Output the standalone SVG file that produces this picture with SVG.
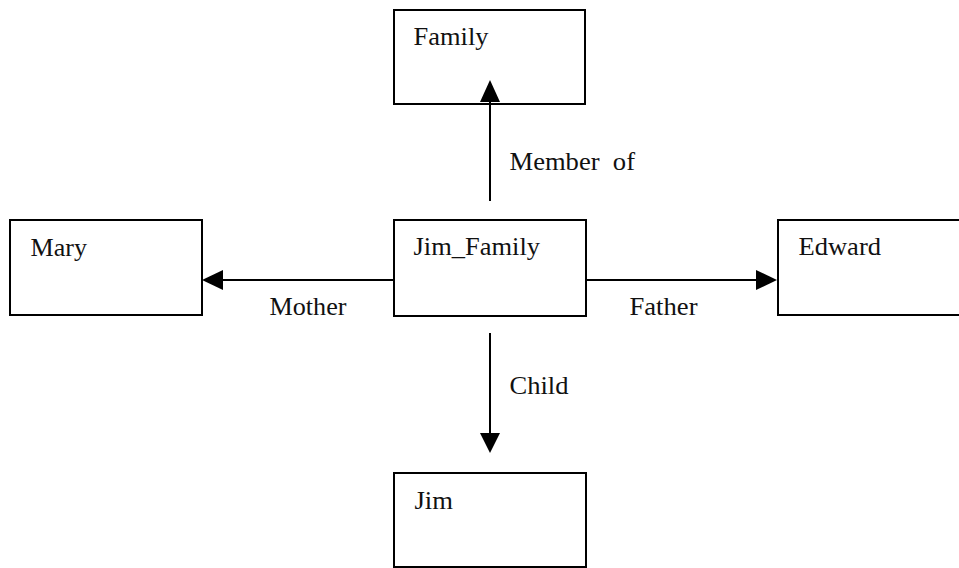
<svg xmlns="http://www.w3.org/2000/svg" width="959" height="568" viewBox="0 0 959 568" font-family="'Liberation Serif', 'Times New Roman', 'DejaVu Serif', serif">
  <style>
    .box { fill: #ffffff; stroke: #000000; stroke-width: 2; }
    text { font-family: 'Liberation Serif', 'Times New Roman', 'DejaVu Serif', serif; }
    .lbl { font-size: 24.5px; fill: #111111; }
    .edge { stroke: #000000; stroke-width: 2; fill: none; }
    .head { fill: #000000; stroke: none; }
  </style>
  <rect width="959" height="568" fill="#ffffff"/>

  <g id="node-family">
    <rect class="box" x="394" y="10" width="191" height="94"/>
    <text class="lbl" x="413.5" y="45" textLength="75" lengthAdjust="spacingAndGlyphs">Family</text>
  </g>

  <g id="node-jim-family">
    <rect class="box" x="394" y="220" width="192" height="96"/>
    <text class="lbl" x="413.5" y="255" textLength="126.5" lengthAdjust="spacingAndGlyphs">Jim_Family</text>
  </g>

  <g id="node-mary">
    <rect class="box" x="10" y="220" width="192" height="95"/>
    <text class="lbl" x="30.5" y="255.5" textLength="56.5" lengthAdjust="spacingAndGlyphs">Mary</text>
  </g>

  <g id="node-edward">
    <rect class="box" x="778" y="220" width="200" height="95"/>
    <text class="lbl" x="798.5" y="255" textLength="82.5" lengthAdjust="spacingAndGlyphs">Edward</text>
  </g>

  <g id="node-jim">
    <rect class="box" x="394" y="473" width="192" height="94"/>
    <text class="lbl" x="414.5" y="508.5" textLength="38.5" lengthAdjust="spacingAndGlyphs">Jim</text>
  </g>

  <!-- connectors sit on top so the heads show inside the boxes -->
  <g id="connectors">
    <!-- Member of: Jim_Family -> Family -->
    <line class="edge" x1="490" y1="201" x2="490" y2="100"/>
    <polygon class="head" points="490,80 500,102 480,102"/>
    <text class="lbl" x="509.5" y="169.5" textLength="125.5" lengthAdjust="spacingAndGlyphs" xml:space="preserve">Member  of</text>
    <!-- Mother: Jim_Family -> Mary -->
    <line class="edge" x1="393" y1="280" x2="220" y2="280"/>
    <polygon class="head" points="202,280 223,270 223,290"/>
    <text class="lbl" x="269.5" y="314.5" textLength="77" lengthAdjust="spacingAndGlyphs">Mother</text>
    <!-- Father: Jim_Family -> Edward -->
    <line class="edge" x1="586" y1="280" x2="759" y2="280"/>
    <polygon class="head" points="777,280 756,270 756,290"/>
    <text class="lbl" x="629.5" y="314.5" textLength="68" lengthAdjust="spacingAndGlyphs">Father</text>
    <!-- Child: Jim_Family -> Jim -->
    <line class="edge" x1="490" y1="333" x2="490" y2="436"/>
    <polygon class="head" points="490,453 480,433 500,433"/>
    <text class="lbl" x="509.5" y="394" textLength="59" lengthAdjust="spacingAndGlyphs">Child</text>
  </g>
</svg>
